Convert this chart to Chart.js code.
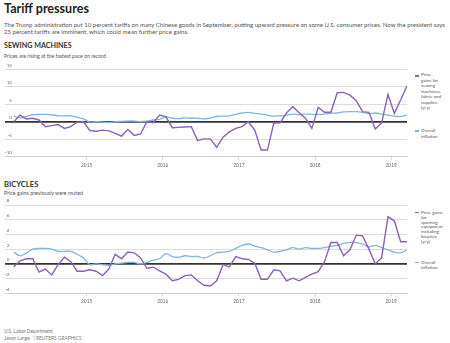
<!DOCTYPE html>
<html>
<head>
<meta charset="utf-8">
<script src="https://cdn.jsdelivr.net/npm/chart.js@4.4.1/dist/chart.umd.min.js"></script>
<style>
  html, body { margin: 0; padding: 0; background: #fff; }
  body { width: 450px; height: 343px; position: relative; overflow: hidden; font-family: Lato, "Open Sans", sans-serif; }
  .abs { position: absolute; white-space: nowrap; }
  #title { left: 4px; font-size: 11.5px; font-weight: 700; color: #222; line-height: 14px; top: 1.5px; }
  #sub { left: 4px; font-size: 5.8px; line-height: 7px; color: #555; top: 20.5px; }
  .sec { left: 4px; font-size: 7.2px; font-weight: 700; color: #333; line-height: 9px; }
  .secsub { left: 4px; font-size: 4.8px; color: #555; line-height: 6px; }
  .leg { left: 421px; font-size: 4.8px; color: #555; }
  .dash { position: absolute; left: 415px; width: 4px; height: 1.5px; }
  #src { left: 4px; font-size: 4.8px; line-height: 7.5px; color: #777; top: 327.8px; }
  canvas { position: absolute; left: 0; }
</style>
</head>
<body>
<div id="title" class="abs"><span id="titleSpan">Tariff pressures</span></div>
<div id="sub" class="abs"><span id="subLine1">The Trump administration put 10 percent tariffs on many Chinese goods in September, putting upward pressure on some U.S. consumer prices. Now the president says</span><br>25 percent tariffs are imminent, which could mean further price gains.</div>

<div id="sec1" class="abs sec" style="top:40.5px"><span id="sec1Span">SEWING MACHINES</span></div>
<div id="sub1" class="abs secsub" style="top:53px"><span id="sub1Span">Prices are rising at the fastest pace on record</span></div>
<canvas id="c1" width="410" height="112" style="top:60px"></canvas>
<div class="dash" style="top:75px;background:#8a63b8"></div>
<div class="abs leg" id="leg1" style="top:72.2px;line-height:5.55px">Price<br>gains for<br>sewing<br>machines,<br>fabric and<br>supplies<br>(y/y)</div>
<div class="dash" style="top:130px;background:#82b4e6"></div>
<div class="abs leg" id="leg2" style="top:127.9px;line-height:5.7px">Overall<br>inflation</div>

<div id="sec2" class="abs sec" style="top:179.5px"><span id="sec2Span">BICYCLES</span></div>
<div id="sub2" class="abs secsub" style="top:189.7px"><span id="sub2Span">Price gains previously were muted</span></div>
<canvas id="c2" width="410" height="115" style="top:195px"></canvas>
<div class="dash" style="top:211.6px;background:#8a63b8"></div>
<div class="abs leg" id="leg3" style="top:209.9px;line-height:4.85px"><span id="leg3Span">Price gains</span><br>for<br>sporting<br>equipment<br>including<br>bicycles<br>(y/y)</div>
<div class="dash" style="top:261.6px;background:#82b4e6"></div>
<div class="abs leg" id="leg4" style="top:259.8px;line-height:5px">Overall<br>inflation</div>

<div id="src" class="abs"><span id="srcSpan">U.S. Labor Department</span><br>Jason Lange &nbsp;&nbsp;| REUTERS GRAPHICS</div>

<script>
// ---- data (monthly, Jan 2014 - Mar 2019) ----
const months = [];
for (let y = 2014; y <= 2019; y++) for (let m = 1; m <= 12; m++) {
  if (y === 2019 && m > 3) break;
  months.push(y + '-' + String(m).padStart(2, '0'));
}
const sewingMachines = [
  0.0, 1.9, 0.8, 1.0, 0.5, -1.4, -1.1, -0.8, -1.9, -1.4, -0.1, 0.0,
  -2.5, -2.7, -2.4, -2.6, -3.3, -4.1, -2.2, -3.9, -3.5, 0.0, -0.3, 1.9,
  1.4, -1.7, -1.6, -1.5, -1.4, -5.4, -4.9, -4.9, -7.3, -4.4, -2.9, -1.9,
  -1.4, 0.0, -2.4, -8.1, -8.1, -0.4, -0.3, 2.5, 4.3, 2.6, 1.0, -1.9,
  4.1, 2.7, 2.7, 8.3, 8.4, 7.6, 6.0, 2.9, 2.7, -2.1, -0.3, 7.8,
  2.4, 6.2, 10.3
];
const bicycles = [
  -0.4, 0.4, 0.7, 0.7, -1.1, -0.7, -1.5, -0.1, 0.9, 0.3, -1.0, -1.0,
  -0.8, -1.0, -1.6, -0.7, 1.3, 0.7, 1.6, 1.5, 0.8, -0.6, -0.45, -0.95,
  -1.4, -2.3, -2.1, -1.6, -1.5, -2.3, -2.9, -3.0, -2.3, -0.1, -0.4, 1.0,
  0.7, 0.6, 0.1, -2.1, -2.1, -0.8, -0.95, -2.3, -1.95, -2.3, -1.85, -1.4,
  -1.05, 0.3, 2.9, 2.9, 1.1, 1.9, 3.9, 3.8, 2.0, 0.0, 0.8, 6.4,
  5.85, 3.0, 3.0
];
const inflation = [
  1.6, 1.1, 1.5, 2.0, 2.1, 2.1, 2.0, 1.7, 1.7, 1.7, 1.3, 0.8,
  -0.1, 0.0, -0.1, -0.2, 0.0, 0.1, 0.2, 0.2, 0.0, 0.2, 0.5, 0.7,
  1.4, 1.0, 0.9, 1.1, 1.0, 1.0, 0.8, 1.1, 1.5, 1.6, 1.7, 2.1,
  2.5, 2.7, 2.4, 2.2, 1.9, 1.6, 1.7, 1.9, 2.2, 2.0, 2.2, 2.1,
  2.1, 2.2, 2.4, 2.5, 2.8, 2.9, 2.9, 2.7, 2.3, 2.5, 2.2, 1.9,
  1.6, 1.5, 1.9
];
const yearLabels = ['2015', '2016', '2017', '2018', '2019'];

const PURPLE = '#8a63b8';
const BLUE = '#82b4e6';
const GRID = '#dcdcdc';
const AXIS = '#cfcfcf';
const FONT = 'Lato, "Open Sans", sans-serif';

// scale text so that its rendered width matches the reference
function fitWidth(measureId, applyId, target) {
  const m = document.getElementById(measureId);
  const a = document.getElementById(applyId);
  const w = m.getBoundingClientRect().width;
  if (!w) return;
  const fs = parseFloat(getComputedStyle(a).fontSize);
  a.style.fontSize = (fs * target / w).toFixed(2) + 'px';
}
function fitAll() {
  fitWidth('titleSpan', 'title', 85);
  fitWidth('subLine1', 'sub', 441);
  fitWidth('sec1Span', 'sec1', 67.7);
  fitWidth('sec2Span', 'sec2', 34.3);
  fitWidth('sub1Span', 'sub1', 102);
  fitWidth('sub2Span', 'sub2', 79);
  fitWidth('srcSpan', 'src', 48.7);
  fitWidth('leg3Span', 'leg3', 21.5);
  const legSize = document.getElementById('leg3').style.fontSize;
  ['leg1', 'leg2', 'leg4'].forEach(id => document.getElementById(id).style.fontSize = legSize);
}
fitAll();

// data points are mid-month; year ticks sit at the start of January
const yearTickPos = yearLabels.map(y => months.indexOf(y + '-01') - 0.5);
const toXY = arr => arr.map((v, i) => ({ x: i, y: v }));

function makeChart(id, series, yMin, yMax, yStep, padTop, xHeight) {
  return new Chart(document.getElementById(id), {
    type: 'line',
    data: {
      datasets: [
        { data: toXY(series), borderColor: PURPLE, borderWidth: 1.4, pointRadius: 0, tension: 0, order: 1 },
        { data: toXY(inflation), borderColor: BLUE, borderWidth: 1.3, pointRadius: 0, tension: 0.35, order: 2 }
      ]
    },
    options: {
      responsive: false,
      animation: false,
      events: [],
      layout: { padding: { left: 5, right: 3, top: padTop, bottom: 0 } },
      plugins: { legend: { display: false }, tooltip: { enabled: false } },
      scales: {
        x: {
          type: 'linear',
          min: -1.37,
          max: months.length - 1,
          afterBuildTicks: s => { s.ticks = yearTickPos.map(v => ({ value: v })); },
          afterFit: s => { s.height = xHeight; },
          ticks: {
            autoSkip: false, maxRotation: 0,
            callback: (v, i) => yearLabels[i],
            font: { family: FONT, size: 4.8 }, color: '#666', padding: 2.5
          },
          grid: { drawOnChartArea: false, drawTicks: true, tickLength: 3, color: AXIS, lineWidth: 0.8 },
          border: { display: true, color: AXIS, width: 1 }
        },
        y: {
          min: yMin, max: yMax,
          afterFit: s => { s.width = 0; },
          ticks: {
            stepSize: yStep, mirror: true, crossAlign: 'far', padding: 0, labelOffset: -4,
            font: { family: FONT, size: 4.6 }, color: '#666'
          },
          grid: {
            drawTicks: false,
            color: c => (c.tick && c.tick.value === 0) ? '#333' : GRID,
            lineWidth: c => (c.tick && c.tick.value === 0) ? 1.8 : 1
          },
          border: { display: false }
        }
      }
    }
  });
}

makeChart('c1', sewingMachines, -10, 15, 5, 9.3, 15.3);
makeChart('c2', bicycles, -4, 8, 2, 10, 16.7);
</script>
</body>
</html>
